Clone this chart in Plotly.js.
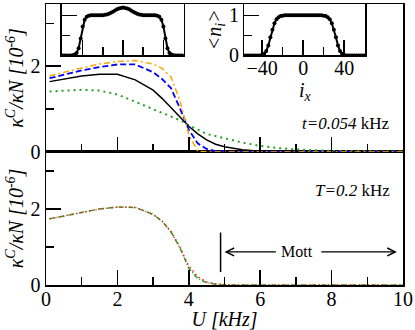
<!DOCTYPE html>
<html>
<head>
<meta charset="utf-8">
<script src="https://cdn.plot.ly/plotly-3.0.1.min.js"></script>
<style>
  html, body { margin: 0; padding: 0; background: #fff; }
  #chart { width: 415px; height: 330px; }
</style>
</head>
<body>
<div id="chart"></div>
<script>
// U values [kHz], shared by all curves of the main panels
const uValues = [0.1, 0.5, 1.0, 1.5, 2.0, 2.5, 3.0, 3.25, 3.5, 3.75, 3.9, 4.0, 4.25, 4.5, 4.75, 5.0, 5.5, 6.0, 6.5, 7.0, 7.5, 8.0, 9.0, 10.0];

// upper panel (t = 0.054 kHz), kappa^C / kappa N in units of 1e-6
const kappaBlack  = [1.64, 1.70, 1.77, 1.81, 1.81, 1.68, 1.44, 1.25, 1.04, 0.81, 0.68, 0.60, 0.42, 0.28, 0.18, 0.12, 0.05, 0.015, 0.005, 0, 0, 0, 0, 0];
const kappaBlue   = [1.72, 1.80, 1.90, 1.98, 2.04, 2.04, 1.86, 1.70, 1.49, 1.02, 0.70, 0.52, 0.20, 0.07, 0.02, 0.005, 0, 0, 0, 0, 0, 0, 0, 0];
const kappaOrange = [1.77, 1.86, 1.96, 2.05, 2.11, 2.13, 2.05, 1.95, 1.75, 1.20, 0.71, 0.40, 0.02, 0, 0, 0, 0, 0, 0, 0, 0, 0, 0, 0];
const kappaGreen  = [1.41, 1.43, 1.45, 1.43, 1.34, 1.17, 1.00, 0.92, 0.84, 0.74, 0.67, 0.62, 0.52, 0.42, 0.37, 0.32, 0.22, 0.14, 0.09, 0.06, 0.04, 0.025, 0.015, 0.01];

// lower panel (T = 0.2 kHz)
const kappaLowGreen = [1.74, 1.82, 1.90, 2.00, 2.05, 2.04, 1.86, 1.68, 1.40, 0.98, 0.66, 0.44, 0.17, 0.06, 0.02, 0.005, 0, 0, 0, 0, 0, 0, 0, 0];
const kappaLowRed   = [1.74, 1.82, 1.90, 2.00, 2.05, 2.04, 1.86, 1.68, 1.41, 1.00, 0.69, 0.50, 0.22, 0.08, 0.03, 0.01, 0, 0, 0, 0, 0, 0, 0, 0];

// inset density profiles <n_i> along i_x
const siteIx = [-60, -58, -56, -54, -52, -50, -48, -46, -44, -42, -40, -38, -36, -34, -32, -30, -28, -26, -24, -22, -20, -18, -16, -14, -12, -10, -8, -6, -4, -2, 0,
                2, 4, 6, 8, 10, 12, 14, 16, 18, 20, 22, 24, 26, 28, 30, 32, 34, 36, 38, 40, 42, 44, 46, 48, 50, 52, 54, 56, 58, 60];
const densLeft = [0, 0, 0, 0, 0, 0.005, 0.02, 0.06, 0.18, 0.42, 0.72, 0.89, 0.96, 0.99, 1.0, 1.0, 1.0, 1.0, 1.0, 1.0, 1.0, 1.01, 1.02, 1.04, 1.06, 1.09, 1.12, 1.15, 1.17, 1.18, 1.19,
                  1.18, 1.17, 1.15, 1.12, 1.09, 1.06, 1.04, 1.02, 1.01, 1.0, 1.0, 1.0, 1.0, 1.0, 1.0, 1.0, 0.99, 0.96, 0.89, 0.72, 0.42, 0.18, 0.06, 0.02, 0.005, 0, 0, 0, 0, 0];
const densRight = [0, 0, 0, 0, 0, 0, 0, 0, 0, 0, 0.01, 0.04, 0.11, 0.25, 0.45, 0.64, 0.80, 0.90, 0.95, 0.98, 0.99, 1.0, 1.0, 1.0, 1.0, 1.0, 1.0, 1.0, 1.0, 1.0, 1.0,
                   1.0, 1.0, 1.0, 1.0, 1.0, 1.0, 1.0, 1.0, 1.0, 0.99, 0.98, 0.95, 0.90, 0.80, 0.64, 0.45, 0.25, 0.11, 0.04, 0.01, 0, 0, 0, 0, 0, 0, 0, 0, 0, 0];

const serif = 'Liberation Serif';

function curve(y, xa, ya, color, dash, width) {
    return {
        x: uValues, y: y, xaxis: xa, yaxis: ya,
        mode: 'lines', type: 'scatter',
        line: { color: color, dash: dash, width: width },
        hoverinfo: 'skip', showlegend: false
    };
}

const traces = [
    curve(kappaGreen, 'x2', 'y2', '#22a022', '2px,4px', 2),
    curve(kappaBlack, 'x2', 'y2', 'black', 'solid', 1.5),
    curve(kappaBlue, 'x2', 'y2', '#0000ff', '6px,3px', 1.8),
    curve(kappaOrange, 'x2', 'y2', '#ffa500', '6px,3px,2px,3px', 1.5),
    curve(kappaLowGreen, 'x', 'y', '#22a022', '5px,2px,1px,2px', 1.5),
    curve(kappaLowRed, 'x', 'y', '#ff2020', '1.5px,3px', 1.5),
    {
        x: siteIx, y: densLeft, xaxis: 'x3', yaxis: 'y3',
        mode: 'lines+markers', type: 'scatter',
        line: { color: 'black', width: 2 },
        marker: { color: 'black', size: 4 },
        hoverinfo: 'skip', showlegend: false
    },
    {
        x: siteIx, y: densRight, xaxis: 'x4', yaxis: 'y4',
        mode: 'lines+markers', type: 'scatter',
        line: { color: 'black', width: 2 },
        marker: { color: 'black', size: 4 },
        hoverinfo: 'skip', showlegend: false
    }
];

const tickFont = { family: serif, size: 20, color: 'black' };
const titleFont = { family: serif, size: 20, color: 'black' };
const minorTicks = (d) => ({ dtick: d, ticklen: 8, ticks: 'inside', tickwidth: 1.5, tickcolor: 'black' });

function frameAxis(extra) {
    return Object.assign({
        showline: true, mirror: true, linecolor: 'black', linewidth: 1.5,
        showgrid: false, zeroline: false, automargin: false,
        ticks: 'inside', ticklen: 15, tickwidth: 1.5, tickcolor: 'black',
        tickfont: tickFont
    }, extra);
}

const kappaTitle = '<i>κ<sup>C</sup>/κN [10<sup>-6</sup>]</i>';

const layout = {
    width: 415, height: 330,
    margin: { l: 46, r: 11, t: 2, b: 45 },
    paper_bgcolor: 'white', plot_bgcolor: 'white',
    font: { family: serif, size: 20, color: 'black' },
    showlegend: false,
    // lower panel
    xaxis: frameAxis({
        domain: [0, 1], range: [0, 10], dtick: 2, anchor: 'y',
        minor: minorTicks(1), ticklabelstandoff: -5, automargin: true,
        title: { text: '<i>U [kHz]</i>', font: titleFont, standoff: 0 }
    }),
    yaxis: frameAxis({
        domain: [0, 0.4735], range: [0, 3.5], dtick: 2, anchor: 'x',
        minor: minorTicks(1), automargin: true,
        title: { text: kappaTitle, font: titleFont, standoff: 1 }
    }),
    // upper panel
    xaxis2: frameAxis({
        domain: [0, 1], range: [0, 10], dtick: 2, anchor: 'y2', showticklabels: false,
        minor: minorTicks(1)
    }),
    yaxis2: frameAxis({
        domain: [0.4735, 1], range: [0, 3.45], dtick: 2, anchor: 'x2',
        minor: minorTicks(1), automargin: true,
        title: { text: kappaTitle, font: titleFont, standoff: 1 }
    }),
    // left inset
    xaxis3: frameAxis({
        domain: [0.0447, 0.3855], range: [-60.5, 60], dtick: 40, anchor: 'y3', showticklabels: false,
        minor: minorTicks(20)
    }),
    yaxis3: frameAxis({
        domain: [0.817, 1], range: [0, 1.28], dtick: 1, anchor: 'x3', showticklabels: false,
        minor: minorTicks(0.5)
    }),
    // right inset
    xaxis4: frameAxis({
        domain: [0.5559, 0.8939], range: [-57.3, 60.5], dtick: 40, anchor: 'y4',
        minor: minorTicks(20), ticklabelstandoff: -6, automargin: true,
        title: { text: '<i>i<sub>x</sub></i>', font: titleFont, standoff: 0 }
    }),
    yaxis4: frameAxis({
        domain: [0.817, 1], range: [0, 1.28], dtick: 1, anchor: 'x4',
        minor: minorTicks(0.5), automargin: true,
        title: { text: '<i>&lt;n<sub>i</sub>&gt;</i>', font: titleFont, standoff: 2 }
    }),
    shapes: [
        { type: 'line', xref: 'x', yref: 'y', x0: 4.89, x1: 4.89, y0: 0.34, y1: 1.38,
          line: { color: 'black', width: 1.5 } }
    ],
    annotations: [
        { xref: 'x2', yref: 'y2', x: 9.66, y: 0.655, xanchor: 'right', yanchor: 'middle', showarrow: false,
          text: '<i>t=0.054</i> kHz', font: { family: serif, size: 17, color: 'black' } },
        { xref: 'x', yref: 'y', x: 9.7, y: 2.48, xanchor: 'right', yanchor: 'middle', showarrow: false,
          text: '<i>T=0.2</i> kHz', font: { family: serif, size: 17, color: 'black' } },
        { xref: 'x', yref: 'y', x: 7.04, y: 0.87, xanchor: 'center', yanchor: 'middle', showarrow: false,
          text: 'Mott', font: { family: serif, size: 16, color: 'black' } },
        { xref: 'x', yref: 'y', axref: 'x', ayref: 'y', x: 5.0, y: 0.87, ax: 6.48, ay: 0.87,
          text: '', showarrow: true, arrowhead: 5, arrowsize: 1.3, arrowwidth: 1.2, arrowcolor: 'black', standoff: 0 },
        { xref: 'x', yref: 'y', axref: 'x', ayref: 'y', x: 9.83, y: 0.87, ax: 7.67, ay: 0.87,
          text: '', showarrow: true, arrowhead: 5, arrowsize: 1.3, arrowwidth: 1.2, arrowcolor: 'black', standoff: 0 }
    ]
};

Plotly.newPlot('chart', traces, layout, { staticPlot: true, displayModeBar: false });
</script>
</body>
</html>
